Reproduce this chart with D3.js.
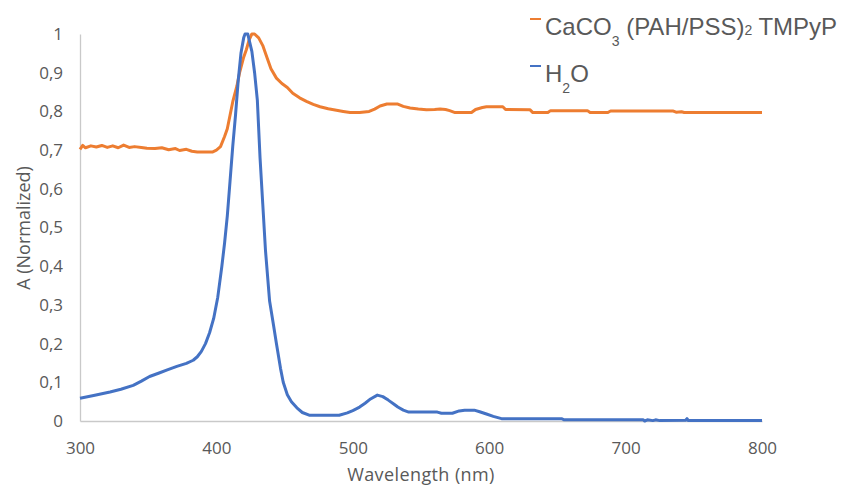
<!DOCTYPE html>
<html>
<head>
<meta charset="utf-8">
<script src="https://cdn.jsdelivr.net/npm/d3@7/dist/d3.min.js"></script>
<style>
  body { margin: 0; background: #fff; }
  .axis text { font-family: "Open Sans", sans-serif; font-size: 17px; fill: #595959; }
  .axis path { stroke: #c9c9c9; stroke-width: 1.3px; }
</style>
</head>
<body>
<div class="chart"></div>
<script>
(function () {
  // CaCO3 (PAH/PSS)2 TMPyP
  var caco3Wl = [300, 302, 304, 308, 312, 316, 320, 324, 328, 332, 336, 340, 345, 349, 355, 360, 365, 370, 373, 378,
    382, 386, 397, 400, 403, 406, 408, 410, 412, 415, 417, 420, 422, 424, 426, 428, 431, 434, 437, 440,
    444, 448, 452, 456, 461, 466, 471, 476, 482, 488, 493, 498, 505, 512, 516, 520, 525, 533, 537, 542,
    548, 554, 560, 564, 568, 571, 575, 587, 590, 595, 598, 610, 612, 630, 632, 643, 645, 672, 674, 687,
    689, 735, 737, 741, 743, 800];
  var caco3A = [0.702, 0.712, 0.706, 0.711, 0.708, 0.712, 0.707, 0.711, 0.706, 0.713, 0.707, 0.709, 0.707, 0.705, 0.704, 0.706, 0.701, 0.704, 0.699, 0.702,
    0.697, 0.695, 0.695, 0.7, 0.709, 0.735, 0.755, 0.79, 0.825, 0.865, 0.9, 0.94, 0.96, 0.985, 1.0, 1.0, 0.99, 0.97, 0.94, 0.91,
    0.886, 0.872, 0.862, 0.847, 0.835, 0.826, 0.818, 0.812, 0.807, 0.803, 0.8, 0.797, 0.797, 0.8, 0.806, 0.814, 0.819, 0.819, 0.813, 0.809,
    0.806, 0.804, 0.805, 0.806, 0.805, 0.802, 0.797, 0.797, 0.805, 0.81, 0.812, 0.812, 0.805, 0.804, 0.797, 0.797, 0.802, 0.802, 0.797, 0.797,
    0.801, 0.801, 0.798, 0.799, 0.797, 0.797];

  // H2O
  var h2oWl = [300, 310, 322, 330, 339, 345, 351, 358, 364, 371, 378, 383, 386, 389, 392, 395, 398, 401, 404, 406,
    408, 410, 412, 414, 416, 418, 420, 421, 423, 424, 426, 428, 430, 432, 434, 436, 439, 442, 444, 447,
    449, 452, 455, 459, 463, 468, 490, 496, 500, 505, 509, 513, 518, 522, 526, 530, 533, 537, 541, 562,
    565, 573, 578, 582, 589, 593, 598, 603, 609, 653, 655, 713, 714, 716, 720, 722, 725, 744, 745, 746,
    800];
  var h2oA = [0.059, 0.066, 0.075, 0.082, 0.092, 0.103, 0.115, 0.124, 0.132, 0.141, 0.149, 0.157, 0.166, 0.18, 0.2, 0.228, 0.265, 0.32, 0.4, 0.46,
    0.53, 0.62, 0.71, 0.79, 0.88, 0.95, 0.99, 1.0, 1.0, 0.985, 0.955, 0.9, 0.83, 0.68, 0.56, 0.44, 0.31, 0.245, 0.2, 0.136,
    0.1, 0.068, 0.05, 0.034, 0.022, 0.015, 0.015, 0.021, 0.027, 0.036, 0.046, 0.057, 0.067, 0.063, 0.054, 0.044, 0.036, 0.028, 0.023, 0.023,
    0.02, 0.02, 0.026, 0.028, 0.028, 0.024, 0.018, 0.012, 0.006, 0.006, 0.003, 0.003, 0.0, 0.003, 0.001, 0.003, 0.001, 0.002, 0.006, 0.001,
    0.001];

  var xTicks = [300, 400, 500, 600, 700, 800];
  var yTicks = [0, 0.1, 0.2, 0.3, 0.4, 0.5, 0.6, 0.7, 0.8, 0.9, 1];

  var toPoints = function (wl, a) {
    return wl.map(function (w, i) { return {x: w, y: a[i]}; });
  };
  var series = [
    {id: 'caco3', color: '#ED7D31', values: toPoints(caco3Wl, caco3A)},
    {id: 'h2o', color: '#4472C4', values: toPoints(h2oWl, h2oA)}
  ];

  var svg = d3.select('.chart').append('svg')
    .attr('width', 856)
    .attr('height', 487);

  var x = d3.scaleLinear().domain([300, 800]).range([80, 762]);
  var y = d3.scaleLinear().domain([0, 1]).range([421, 34]);

  // axis
  svg.append('g')
      .attr('class', 'axis axis--x')
      .attr('transform', 'translate(0,' + y(0) + ')')
      .call(d3.axisBottom(x).tickValues(xTicks).tickSize(0).tickPadding(21).tickFormat(d3.format('d')));
  svg.append('g')
      .attr('class', 'axis axis--y')
      .attr('transform', 'translate(' + x(300) + ',0)')
      .call(d3.axisLeft(y).tickValues(yTicks).tickSize(0).tickPadding(17)
        .tickFormat(function (d) { return String(d).replace('.', ','); }));
  svg.selectAll('.axis path').attr('stroke', '#c9c9c9');
  svg.selectAll('.axis text').attr('fill', '#595959');

  // labels
  svg.append('text')
    .attr('transform', 'rotate(-90)')
    .attr('x', -228)
    .attr('y', 30)
    .attr('font-family', '"Open Sans", sans-serif')
    .attr('font-size', '18px')
    .attr('fill', '#595959')
    .style('text-anchor', 'middle')
    .text('A (Normalized)');
  svg.append('text')
    .attr('x', 421)
    .attr('y', 481)
    .attr('font-family', '"Open Sans", sans-serif')
    .attr('font-size', '18px')
    .attr('letter-spacing', '0.4px')
    .attr('fill', '#595959')
    .style('text-anchor', 'middle')
    .text('Wavelength (nm)');

  // lines
  var line = d3.line()
    .x(function (d) { return x(d.x); })
    .y(function (d) { return y(d.y); });

  svg.selectAll('.line')
    .data(series)
    .enter().append('path')
    .attr('class', 'line')
    .attr('d', function (d) { return line(d.values); })
    .style('stroke', function (d) { return d.color; })
    .style('stroke-width', '3px')
    .style('stroke-linejoin', 'round')
    .style('fill', 'none');

  // legend
  var legend = svg.append('g')
    .attr('font-family', '"Liberation Sans", Arial, sans-serif')
    .attr('fill', '#595959');
  legend.append('line')
    .attr('x1', 530).attr('x2', 541).attr('y1', 19).attr('y2', 19)
    .attr('stroke', series[0].color).attr('stroke-width', 2);
  legend.append('line')
    .attr('x1', 530).attr('x2', 541).attr('y1', 66).attr('y2', 66)
    .attr('stroke', series[1].color).attr('stroke-width', 2);

  var t1 = legend.append('text').attr('x', 545).attr('y', 35).attr('font-size', '24px');
  t1.append('tspan').text('CaCO');
  t1.append('tspan').attr('font-size', '14px').attr('dy', 11).text('3');
  t1.append('tspan').attr('dy', -11).text(' (PAH/PSS)');
  t1.append('tspan').attr('font-size', '14px').text('2');
  t1.append('tspan').text(' TMPyP');

  var t2 = legend.append('text').attr('x', 545).attr('y', 82).attr('font-size', '24px');
  t2.append('tspan').text('H');
  t2.append('tspan').attr('font-size', '14px').attr('dy', 11).text('2');
  t2.append('tspan').attr('dy', -11).text('O');
})();
</script>
</body>
</html>
